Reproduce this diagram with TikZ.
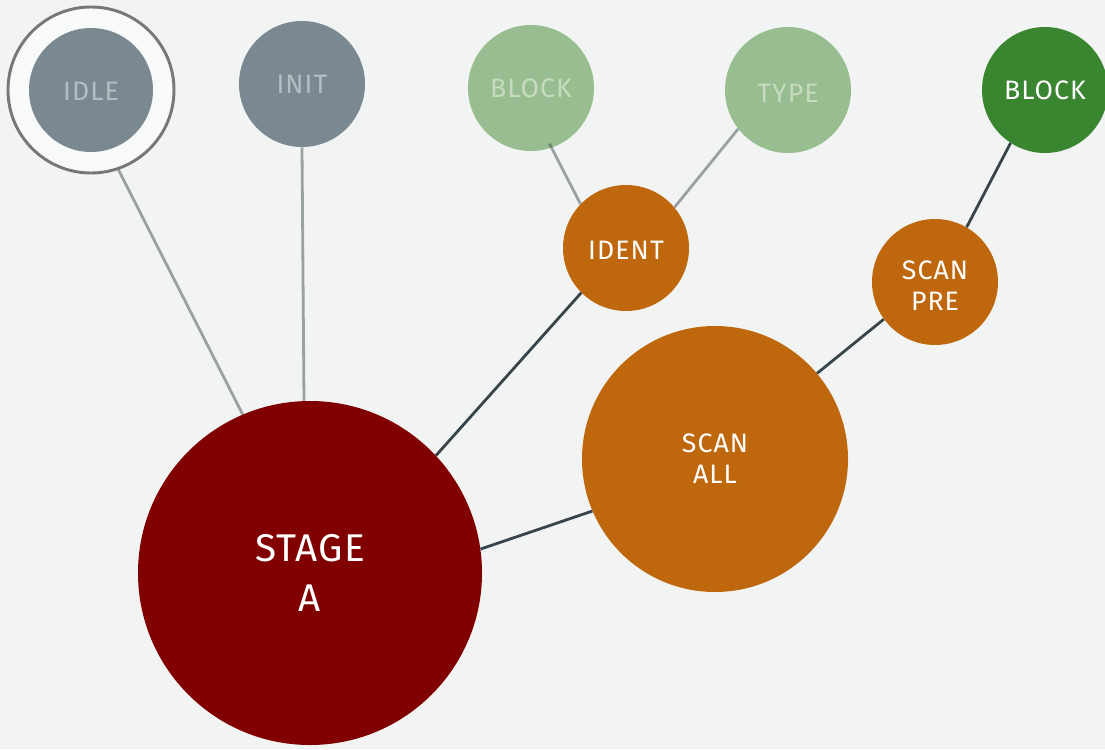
\documentclass[tikz,border=0pt]{standalone}
\usepackage{fontspec}
\setmainfont{Fira Sans}[LetterSpace=4]
\newfontfamily\bigfont{Fira Sans}[LetterSpace=3]
\usetikzlibrary{backgrounds}
\definecolor{bgc}{HTML}{F2F4F3}
\definecolor{greyn}{HTML}{7A8891}
\definecolor{greyt}{HTML}{B4BDC2}
\definecolor{ringf}{HTML}{F8FAF9}
\definecolor{rings}{HTML}{777777}
\definecolor{lgreen}{HTML}{97BD90}
\definecolor{lgreent}{HTML}{C6DBC0}
\definecolor{dgreen}{HTML}{3A8530}
\definecolor{orangen}{HTML}{BF670C}
\definecolor{redn}{HTML}{810000}
\definecolor{dline}{HTML}{37454B}
\tikzset{
  circ/.style={circle, inner sep=0pt, align=center, font=\fontsize{20}{23.25}\selectfont},
  smallc/.style={circ, minimum size=94.5pt},
  greyc/.style={smallc, fill=greyn, text=greyt},
  lgreenc/.style={smallc, fill=lgreen, text=lgreent},
  dgreenc/.style={smallc, fill=dgreen, text=white},
  orangec/.style={smallc, fill=orangen, text=white},
  ringc/.style={circle, inner sep=0pt, minimum size=124.5pt, fill=ringf, draw=rings, line width=2.2pt},
  lightedge/.style={draw=dline, draw opacity=0.47, line width=2.1pt},
  darkedge/.style={draw=dline, line width=2.1pt}
}
\begin{document}
\begin{tikzpicture}[x=0.75pt,y=-0.75pt]
\useasboundingbox (0,0) rectangle (1105,749);
\begin{scope}[on background layer]
\fill[bgc] (0,0) rectangle (1105,749);
\end{scope}
% nodes
\node[ringc] (ring) at (91,90) {};
\node[greyc, minimum size=93pt] (idle) at (91,90) {\raisebox{-1pt}[\height][0pt]{IDLE}};
\node[greyc] (init) at (302,84) {INIT};
\node[lgreenc] (block1) at (531,88) {BLOCK};
\node[lgreenc] (type) at (788,90) {\raisebox{-2.5pt}[\height][0pt]{TYPE}};
\node[dgreenc] (block2) at (1045,90) {BLOCK};
\node[orangec] (ident) at (626,248) {\raisebox{-2pt}[\height][0pt]{IDENT}};
\node[orangec] (scanpre) at (935,282) {\raisebox{-2.5pt}[\height][0pt]{SCAN}\\\raisebox{-2.5pt}[\height][0pt]{PRE}};
\node[circ, minimum size=199.5pt, fill=orangen, text=white] (scanall) at (715,459) {SCAN\\ALL};
\node[circ, minimum size=258pt, fill=redn, text=white, font=\bigfont\fontsize{29}{37.5}\selectfont] (stage) at (310,573) {STAGE\\A};
% edges
\path[lightedge] (ring.289.1) -- (stage.113.6);
\path[lightedge] (init.south) -- (stage.92.7);
\path[lightedge, shorten <=-3.5pt] (block1.289.8) -- (ident.136.3);
\path[lightedge] (type.218.8) -- (ident.40.3);
\path[darkedge] (ident.225) -- (stage.43.4);
\path[darkedge] (scanall.203.8) -- (stage.8.4);
\path[darkedge] (scanall.40.3) -- (scanpre.216.1);
\path[darkedge] (scanpre.60.2) -- (block2.237.5);
\end{tikzpicture}
\end{document}
